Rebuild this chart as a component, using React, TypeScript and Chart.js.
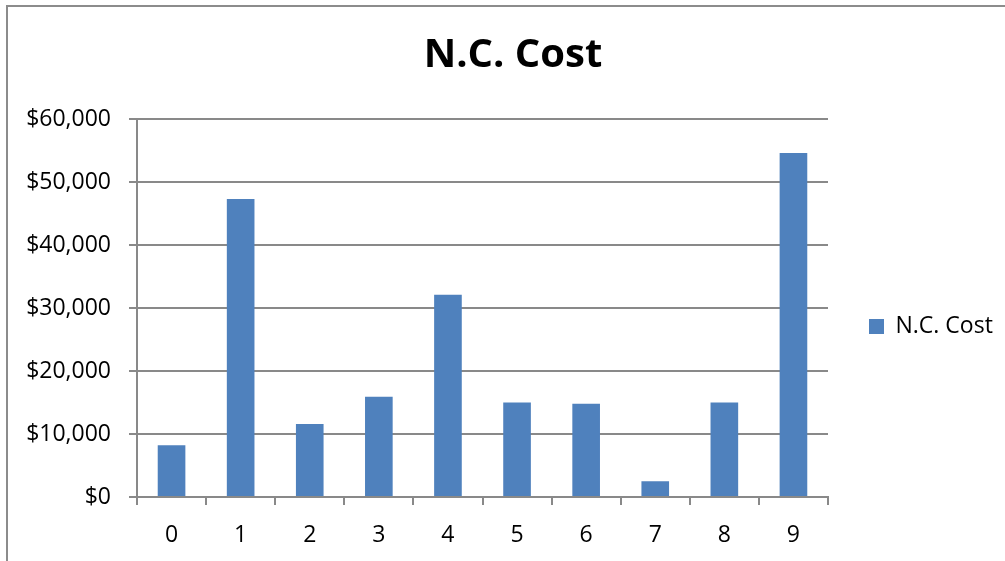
import React, { useEffect, useRef } from 'react';
import { Chart, registerables } from 'chart.js';

Chart.register(...registerables);

const chartTitle = 'N.C. Cost';
const seriesName = 'N.C. Cost';
const categories = ['0', '1', '2', '3', '4', '5', '6', '7', '8', '9'];
const costValues = [8200, 47300, 11600, 15900, 32100, 15000, 14800, 2500, 15000, 54600];
const yTickValues = [0, 10000, 20000, 30000, 40000, 50000, 60000];

const FONT = "'Open Sans', sans-serif";
const GRID = '#898989';
const BAR = '#4F81BD';

const legendWidthPlugin = {
  id: 'legendWidth',
  afterInit(chart: any) {
    const lg = chart.legend;
    if (!lg) return;
    const orig = lg.fit.bind(lg);
    lg.fit = () => {
      orig();
      lg.width = 177;
    };
  },
};

export default function App() {
  const canvasRef = useRef<HTMLCanvasElement | null>(null);

  useEffect(() => {
    const canvas = canvasRef.current;
    if (!canvas) return;
    const chart = new Chart(canvas, {
      type: 'bar',
      data: {
        labels: categories,
        datasets: [
          {
            label: seriesName,
            data: costValues,
            backgroundColor: BAR,
            borderWidth: 0,
            barPercentage: 0.4,
            categoryPercentage: 1.0,
          },
        ],
      },
      plugins: [legendWidthPlugin],
      options: {
        responsive: false,
        animation: false,
        layout: { padding: { left: 21, right: 0, top: 0, bottom: 0 } },
        plugins: {
          title: {
            display: true,
            text: chartTitle,
            color: '#000',
            font: { family: FONT, size: 40, weight: 'bold' },
            padding: { top: 32, bottom: 39 },
          },
          legend: {
            display: true,
            position: 'right',
            align: 'start',
            fullSize: false,
            title: { display: true, text: '', font: { size: 10 }, padding: { top: 143, bottom: 0 } },
            labels: {
              boxWidth: 15,
              boxHeight: 15,
              padding: 41,
              color: '#000',
              font: { family: FONT, size: 23 },
            },
          },
          tooltip: { enabled: false },
        },
        scales: {
          x: {
            afterFit: (scale: any) => {
              scale.height = 64;
            },
            grid: {
              display: true,
              drawOnChartArea: false,
              drawTicks: true,
              tickLength: 8,
              color: GRID,
              lineWidth: 2,
              offset: true,
            },
            border: { display: true, color: GRID, width: 2 },
            ticks: {
              color: '#000',
              font: { family: FONT, size: 23, lineHeight: 1.0 },
              padding: 19,
              maxRotation: 0,
            },
          },
          y: {
            min: 0,
            max: 60000,
            afterBuildTicks: (scale: any) => {
              scale.ticks = yTickValues.map((v) => ({ value: v }));
            },
            afterFit: (scale: any) => {
              scale.width = 116;
            },
            grid: {
              display: true,
              drawOnChartArea: true,
              drawTicks: true,
              tickLength: 8,
              color: GRID,
              lineWidth: 2,
            },
            border: { display: true, color: GRID, width: 2 },
            ticks: {
              color: '#000',
              font: { family: FONT, size: 23 },
              padding: 18,
              callback: (v: any) => '$' + Number(v).toLocaleString('en-US'),
            },
          },
        },
      },
    });
    return () => chart.destroy();
  }, []);

  return (
    <div>
      <div
        style={{
          position: 'fixed',
          left: 6,
          top: 5,
          width: 2000,
          height: 2000,
          borderTop: '2px solid #8c8c8c',
          borderLeft: '2px solid #8c8c8c',
          boxSizing: 'border-box',
        }}
      />
      <canvas
        ref={canvasRef}
        width={1005}
        height={561}
        style={{ position: 'fixed', left: 0, top: 0, width: 1005, height: 561 }}
      />
    </div>
  );
}
